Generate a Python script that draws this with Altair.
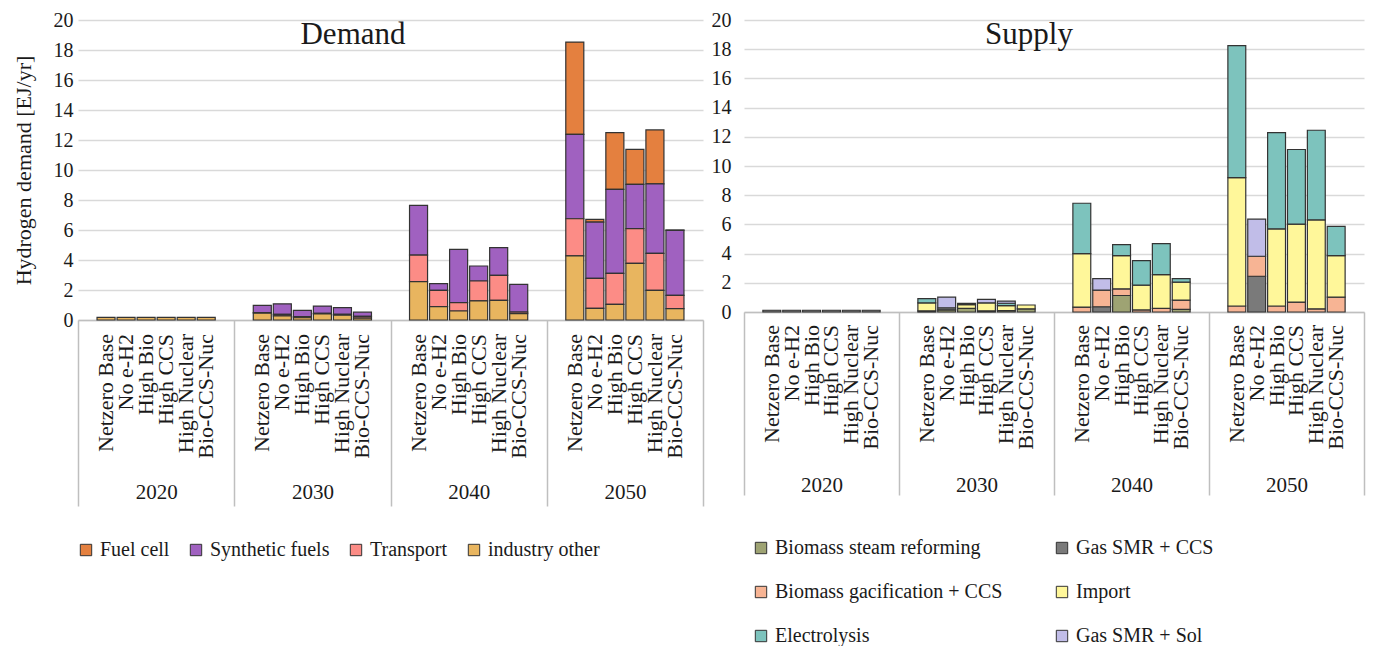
import altair as alt
import pandas as pd

FONT = "Liberation Serif"

years = ["2020", "2030", "2040", "2050"]
scenarios = ["Netzero Base", "No e-H2", "High Bio", "High CCS", "High Nuclear", "Bio-CCS-Nuc"]

# ---------------- Demand (EJ/yr), year-major, 6 scenarios per year ----------------
demand_categories = ["Fuel cell", "Synthetic fuels", "Transport", "industry other"]
demand_colors = ["#E4803F", "#A061C0", "#FC8C86", "#E8B55F"]

fuel_cell = [0, 0, 0, 0, 0, 0,
             0, 0, 0, 0, 0, 0,
             0, 0, 0, 0, 0, 0,
             6.15, 0.18, 3.78, 2.34, 3.60, 0.02]
synthetic_fuels = [0, 0, 0, 0, 0, 0,
                   0.48, 0.71, 0.42, 0.49, 0.44, 0.28,
                   3.31, 0.44, 3.55, 1.00, 1.84, 1.85,
                   5.63, 3.75, 5.60, 2.95, 4.63, 4.34]
transport = [0, 0, 0, 0, 0, 0,
             0.05, 0.10, 0.07, 0.04, 0.06, 0.12,
             1.77, 1.09, 0.56, 1.33, 1.67, 0.11,
             2.48, 2.00, 2.07, 2.31, 2.46, 0.88]
industry_other = [0.18, 0.18, 0.18, 0.18, 0.18, 0.18,
                  0.45, 0.27, 0.15, 0.40, 0.32, 0.12,
                  2.56, 0.89, 0.60, 1.27, 1.31, 0.42,
                  4.27, 0.78, 1.04, 3.78, 1.98, 0.76]

# ---------------- Supply (EJ/yr) ----------------
supply_categories = ["Biomass steam reforming", "Gas SMR + CCS", "Biomass gacification + CCS",
                     "Import", "Electrolysis", "Gas SMR + Sol"]
supply_colors = ["#9EA373", "#7A7A7A", "#F7B494", "#FFF79A", "#7DC3BD", "#C1BDE8"]

biomass_steam = [0, 0, 0, 0, 0, 0,
                 0.08, 0.14, 0.25, 0.08, 0.10, 0.22,
                 0, 0, 1.13, 0, 0, 0.18,
                 0, 0, 0, 0, 0, 0]
gas_smr_ccs = [0.12, 0.12, 0.12, 0.12, 0.12, 0.12,
               0, 0.15, 0, 0, 0, 0,
               0, 0.36, 0, 0, 0, 0,
               0, 2.45, 0, 0, 0, 0]
biomass_gasif = [0, 0, 0, 0, 0, 0,
                 0, 0, 0, 0, 0, 0,
                 0.34, 1.14, 0.46, 0.14, 0.25, 0.64,
                 0.41, 1.37, 0.41, 0.68, 0.22, 1.02]
import_h2 = [0, 0, 0, 0, 0, 0,
             0.55, 0, 0.25, 0.55, 0.33, 0.26,
             3.66, 0, 2.27, 1.70, 2.31, 1.23,
             8.79, 0, 5.29, 5.34, 6.09, 2.84]
electrolysis = [0, 0, 0, 0, 0, 0,
                0.28, 0, 0.09, 0, 0.17, 0,
                3.45, 0, 0.75, 1.68, 2.12, 0.24,
                9.04, 0, 6.59, 5.11, 6.14, 2.00]
gas_smr_sol = [0, 0, 0, 0, 0, 0,
               0, 0.73, 0, 0.23, 0.15, 0,
               0, 0.79, 0, 0, 0, 0,
               0, 2.54, 0, 0, 0, 0]

y_ticks = list(range(0, 21, 2))


def long_table(series, categories, stack_index):
    rows = []
    for ci, cat in enumerate(categories):
        vals = series[ci]
        for yi, yr in enumerate(years):
            for si, sc in enumerate(scenarios):
                rows.append({"year": yr, "scenario": sc, "category": cat,
                             "value": vals[yi * len(scenarios) + si],
                             "stack": stack_index[ci]})
    return pd.DataFrame(rows)


demand_df = long_table([fuel_cell, synthetic_fuels, transport, industry_other],
                       demand_categories, [3, 2, 1, 0])
supply_df = long_table([biomass_steam, gas_smr_ccs, biomass_gasif, import_h2, electrolysis, gas_smr_sol],
                       supply_categories, [0, 1, 2, 3, 4, 5])
labels_df = pd.DataFrame([{"year": y, "scenario": s} for y in years for s in scenarios])


def panel(df, categories, colors, width, height, tick_size, label_pad, scen_gap,
          y_title, y_label_pad, title_text, title_x, legend_cfg):
    x_enc = alt.X("year:N", sort=years,
                  scale=alt.Scale(paddingInner=0, paddingOuter=0),
                  axis=alt.Axis(title=None, labelAngle=0, tickBand="extent", grid=False,
                                tickSize=tick_size, labelPadding=label_pad,
                                labelBaseline="top", domainColor="#BFBFBF",
                                tickColor="#BFBFBF", domainWidth=1.5, tickWidth=1.5,
                                labelFont=FONT, labelFontSize=21, labelColor="#1a1a1a"))
    xo_enc = alt.XOffset("scenario:N", sort=scenarios,
                         scale=alt.Scale(paddingInner=0.1, paddingOuter=0.95))
    y_axis_kwargs = dict(values=y_ticks, grid=True, domain=False, ticks=False,
                         labelPadding=y_label_pad, labelFont=FONT, labelFontSize=20,
                         labelColor="#1a1a1a", gridColor="#D9D9D9", gridWidth=1.5)
    if y_title:
        y_axis_kwargs.update(title=y_title, titleFont=FONT, titleFontSize=22,
                             titleFontWeight="normal", titlePadding=18, titleColor="#1a1a1a")
    else:
        y_axis_kwargs.update(title=None)

    bars = alt.Chart(df).transform_filter("datum.value > 0").mark_bar(
        stroke="#333333", strokeWidth=1.2
    ).encode(
        x=x_enc,
        xOffset=xo_enc,
        y=alt.Y("value:Q", stack="zero", scale=alt.Scale(domain=[0, 20], nice=False),
                axis=alt.Axis(**y_axis_kwargs)),
        color=alt.Color("category:N", scale=alt.Scale(domain=categories, range=colors),
                        legend=alt.Legend(**legend_cfg)),
        order=alt.Order("stack:Q", sort="ascending"),
    )

    scen_labels = alt.Chart(labels_df).mark_text(
        angle=270, align="right", baseline="middle", font=FONT, fontSize=22, color="#1a1a1a"
    ).encode(
        x=x_enc,
        xOffset=xo_enc,
        y=alt.value(height + scen_gap),
        text="scenario:N",
    )

    title = alt.Chart(pd.DataFrame({"t": [title_text]})).mark_text(
        font=FONT, fontSize=31, color="#1a1a1a", baseline="middle", align="center"
    ).encode(x=alt.value(title_x), y=alt.value(15), text="t:N")

    return alt.layer(bars, scen_labels, title).properties(
        width=width, height=height,
        view=alt.ViewBackground(stroke="transparent", strokeWidth=0, strokeOpacity=0),
    )


common_legend = dict(title=None, orient="none", symbolType="square", symbolSize=130,
                     symbolStrokeColor="#333333", symbolStrokeWidth=1,
                     labelFont=FONT, labelFontSize=20, labelColor="#1a1a1a",
                     labelOffset=4, labelLimit=400)

demand = panel(demand_df, demand_categories, demand_colors, 625, 300, 186, -25, 14,
               "Hydrogen demand [EJ/yr]", 5, "Demand", 275,
               dict(common_legend, legendX=-2, legendY=520, columns=4,
                    columnPadding=16, direction="horizontal"))

supply = panel(supply_df, supply_categories, supply_colors, 620, 292, 183, -21, 13,
               None, 13, "Supply", 285,
               dict(common_legend, legendX=7, legendY=518, columns=2,
                    columnPadding=49, rowPadding=24, direction="horizontal"))

chart = alt.hconcat(demand, supply, spacing=7).resolve_scale(
    color="independent", y="independent", x="independent", xOffset="independent"
).properties(
    padding={"left": 4, "top": 2, "right": 2, "bottom": 0}
).configure_view(stroke="transparent", strokeWidth=0, strokeOpacity=0).configure_axisX(
    grid=False
).configure(background="white")

chart.save("out.html", embed_options={"renderer": "svg", "actions": False})
